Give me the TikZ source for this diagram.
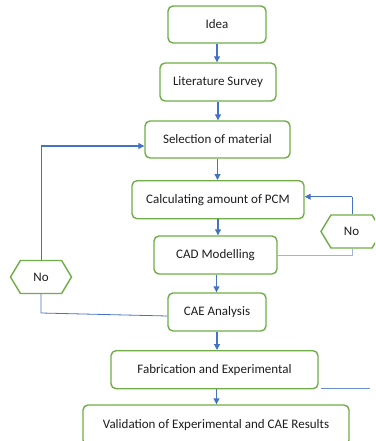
\documentclass[tikz,border=0pt]{standalone}
\usepackage{fontspec}
\setmainfont{Carlito}
\usetikzlibrary{shapes.symbols,arrows.meta}
\definecolor{boxgreen}{HTML}{70AD47}
\definecolor{arrblue}{HTML}{4472C4}
\definecolor{lightblue}{HTML}{9DB4E0}
\definecolor{txt}{HTML}{1E1E1E}
\tikzset{
  stepbox/.style={draw=boxgreen, line width=1.4pt, rounded corners=5pt, fill=white,
    inner sep=0pt, align=center, font=\fontsize{13}{15}\selectfont, text=txt},
  hexbox/.style={draw=boxgreen, line width=1.4pt, shape=signal, signal to=east and west,
    signal pointer angle=118, inner sep=0pt, fill=white, font=\fontsize{13}{15}\selectfont, text=txt},
  flow/.style={draw=arrblue, line width=1.1pt, -{Triangle[length=6pt,width=6pt]}},
  loopline/.style={draw=arrblue, line width=0.8pt},
  faint/.style={draw=lightblue, line width=0.8pt}
}
\begin{document}
\begin{tikzpicture}[x=1pt,y=-1pt]
\useasboundingbox (0,0) rectangle (375,441);
\clip (0,0) rectangle (375,441);
\node[stepbox, minimum width=98pt, minimum height=37pt] (idea) at (217,24.5) {Idea};
\node[stepbox, minimum width=116pt, minimum height=38pt] (lit) at (218,82) {Literature Survey};
\node[stepbox, minimum width=145pt, minimum height=37pt] (sel) at (217.5,139.5) {Selection of material};
\node[stepbox, minimum width=172pt, minimum height=38pt] (pcm) at (218,199.7) {Calculating amount of PCM};
\node[stepbox, minimum width=123pt, minimum height=38pt] (cad) at (215.5,255) {CAD Modelling};
\node[stepbox, minimum width=98pt, minimum height=38pt] (cae) at (217,312) {CAE Analysis};
\node[stepbox, minimum width=207pt, minimum height=38pt] (fab) at (214.5,369.7) {Fabrication and Experimental};
\node[stepbox, minimum width=266pt, minimum height=40pt, text depth=0pt] (val) at (216,425) {\raisebox{3pt}{Validation of Experimental and CAE Results}};
\node[hexbox, minimum width=61pt, minimum height=33pt] (noL) at (41,277) {No};
\node[hexbox, minimum width=61pt, minimum height=33pt] (noR) at (351.5,231.5) {No};
% main flow
\draw[flow] (idea.south) -- (idea.south |- lit.north);
\draw[flow] (lit.south) -- (lit.south |- sel.north);
\draw[flow] (sel.south) -- (sel.south |- pcm.north);
\draw[flow] (pcm.south) -- (pcm.south |- cad.north);
\draw[flow] ([xshift=1pt]cad.south) -- ([xshift=1pt]cad.south |- cae.north);
\draw[flow] (cae.south) -- (cae.south |- fab.north);
\draw[flow] ([xshift=2pt]fab.south) -- ([xshift=2pt]fab.south |- val.north);
% left loop
\coordinate (lA) at (41,313);
\coordinate (lB) at (41,146);
\draw[loopline] ([yshift=-4pt]cae.west) -- (lA) -- (noL.south);
\draw[loopline] (noL.north) -- (lB);
\draw[flow] (lB) -- (lB -| sel.west);
% right loop
\coordinate (rA) at (352,255.7);
\coordinate (rB) at (352,196.7);
\draw[faint] ([yshift=-0.7pt]cad.east) -- (rA) -- (rA |- noR.south);
\draw[loopline] (rB |- noR.north) -- (rB);
\draw[flow] (rB) -- (rB -| pcm.east);
% stray line
\coordinate (s1) at (321,388);
\coordinate (s2) at (370,388);
\draw[loopline, draw=arrblue!80] (s1) -- (s2);
\end{tikzpicture}
\end{document}
